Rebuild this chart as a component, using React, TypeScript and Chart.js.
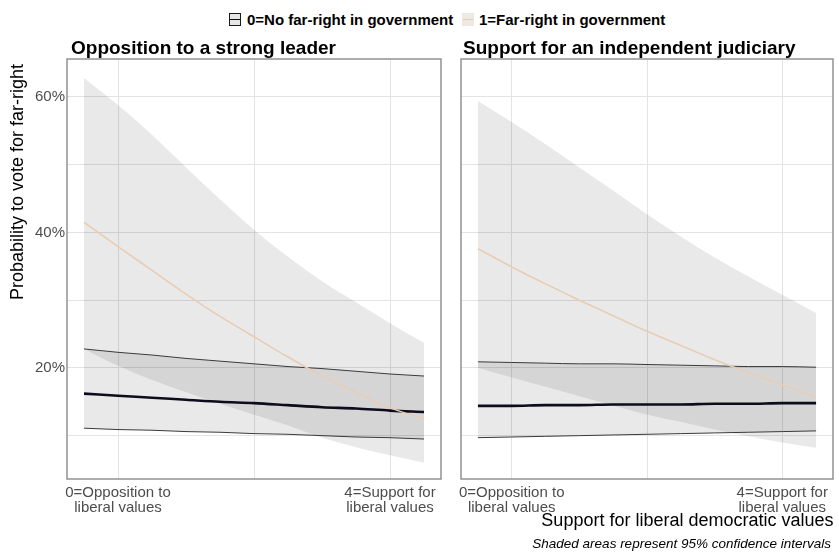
import React, { useEffect, useRef } from "react";
import { Chart, registerables } from "chart.js";

Chart.register(...registerables);

const FONT = '"Liberation Sans", Arial, Helvetica, sans-serif';

// Support for liberal democratic values (x positions of every series)
const supportLevels = [-0.5, 0, 0.5, 1, 1.5, 2, 2.5, 3, 3.5, 4, 4.5];

// Opposition to a strong leader: predicted probability (%) and 95% CI
const leaderNoFarRight = [16.2, 15.9, 15.6, 15.3, 15.0, 14.8, 14.5, 14.2, 14.0, 13.7, 13.5];
const leaderNoFarRightLow = [11.1, 10.9, 10.8, 10.6, 10.5, 10.3, 10.2, 10.0, 9.8, 9.7, 9.5];
const leaderNoFarRightHigh = [22.8, 22.3, 21.9, 21.4, 21.0, 20.6, 20.2, 19.9, 19.5, 19.1, 18.8];
const leaderFarRight = [41.5, 37.9, 34.4, 30.9, 27.6, 24.6, 21.6, 18.8, 16.4, 14.1, 12.5];
const leaderFarRightLow = [22.8, 20.3, 18.2, 16.4, 14.7, 13.1, 11.5, 9.7, 8.3, 7.1, 6.0];
const leaderFarRightHigh = [62.8, 58.8, 54.4, 49.6, 44.9, 40.4, 36.4, 32.8, 29.7, 26.6, 23.7];

// Support for an independent judiciary: predicted probability (%) and 95% CI
const judiciaryNoFarRight = [14.4, 14.4, 14.5, 14.5, 14.6, 14.6, 14.6, 14.7, 14.7, 14.8, 14.8];
const judiciaryNoFarRightLow = [9.7, 9.8, 9.9, 10.0, 10.1, 10.2, 10.3, 10.4, 10.5, 10.6, 10.7];
const judiciaryNoFarRightHigh = [20.9, 20.8, 20.7, 20.6, 20.6, 20.5, 20.4, 20.3, 20.2, 20.2, 20.1];
const judiciaryFarRight = [37.6, 34.9, 32.4, 30.0, 27.7, 25.4, 23.3, 21.2, 19.3, 17.5, 15.7];
const judiciaryFarRightLow = [20.0, 18.6, 17.2, 15.8, 14.4, 13.1, 12.0, 10.9, 9.9, 9.0, 8.2];
const judiciaryFarRightHigh = [59.4, 56.3, 53.0, 49.6, 46.2, 42.7, 39.4, 36.3, 33.5, 30.8, 28.1];

// Axis breaks and labels
const xGridValues = [0, 2, 4];
const xTickValues = [0, 4];
const xTickLabels = [
  ["0=Opposition to", "liberal values"],
  ["4=Support for", "liberal values"],
];
const yGridValues = [10, 20, 30, 40, 50, 60];
const yTickValues = [20, 40, 60];

const panelTitles = ["Opposition to a strong leader", "Support for an independent judiciary"];
const legendLabels = ["0=No far-right in government", "1=Far-right in government"];
const yAxisTitle = "Probability to vote for far-right";
const xAxisTitle = "Support for liberal democratic values";
const captionText = "Shaded areas represent 95% confidence intervals";

const RIBBON = "rgba(0,0,0,0.085)";
const EDGE = "#3a3a3a";
const NO_FR_COLOR = "#0c0c1c";
const FR_COLOR = "#e7cdb5";
const GRID = "#e3e3e3";
const TICK_TEXT = "#4d4d4d";

const panelBorder = {
  id: "panelBorder",
  afterDraw(chart: any) {
    const { ctx, chartArea } = chart;
    const { left, top, right, bottom } = chartArea;
    ctx.save();
    ctx.strokeStyle = "#8a8a8a";
    ctx.lineWidth = 1.4;
    ctx.strokeRect(left, top, right - left, bottom - top);
    ctx.restore();
  },
};

type Series = {
  noFr: number[];
  noFrLow: number[];
  noFrHigh: number[];
  fr: number[];
  frLow: number[];
  frHigh: number[];
};

type PanelProps = {
  series: Series;
  showYLabels: boolean;
  left: number;
  width: number;
  padLeft: number;
  padRight: number;
  yAxisWidth: number;
};

const CANVAS_TOP = 39;
const CANVAS_HEIGHT = 481;

function Panel({ series, showYLabels, left, width, padLeft, padRight, yAxisWidth }: PanelProps) {
  const ref = useRef<HTMLCanvasElement>(null);

  useEffect(() => {
    if (!ref.current) return;
    const pts = (vals: number[]) => supportLevels.map((x, i) => ({ x, y: vals[i] }));
    const base = {
      pointRadius: 0,
      pointHoverRadius: 0,
      cubicInterpolationMode: "monotone" as const,
    };
    const chart = new Chart(ref.current, {
      type: "line",
      data: {
        datasets: [
          {
            ...base,
            label: "fr-low",
            data: pts(series.frLow),
            borderColor: "rgba(0,0,0,0)",
            borderWidth: 1,
            fill: false,
            order: 9,
          },
          {
            ...base,
            label: "fr-high",
            data: pts(series.frHigh),
            borderColor: "rgba(0,0,0,0)",
            borderWidth: 1,
            backgroundColor: RIBBON,
            fill: 0,
            order: 8,
          },
          {
            ...base,
            label: "nofr-low",
            data: pts(series.noFrLow),
            borderColor: EDGE,
            borderWidth: 1,
            fill: false,
            order: 6,
          },
          {
            ...base,
            label: "nofr-high",
            data: pts(series.noFrHigh),
            borderColor: EDGE,
            borderWidth: 1,
            backgroundColor: RIBBON,
            fill: 2,
            order: 7,
          },
          {
            ...base,
            label: "nofr",
            data: pts(series.noFr),
            borderColor: NO_FR_COLOR,
            borderWidth: 2.6,
            fill: false,
            order: 2,
          },
          {
            ...base,
            label: "fr",
            data: pts(series.fr),
            borderColor: FR_COLOR,
            borderWidth: 1.6,
            fill: false,
            order: 1,
          },
        ],
      },
      options: {
        responsive: false,
        animation: false,
        events: [],
        layout: { padding: { top: 20, bottom: 0, left: padLeft, right: padRight } },
        plugins: {
          legend: { display: false },
          tooltip: { enabled: false },
          title: { display: false },
        },
        scales: {
          x: {
            type: "linear",
            min: -0.75,
            max: 4.75,
            afterBuildTicks: (s: any) => {
              s.ticks = xGridValues.map((v) => ({ value: v }));
            },
            afterFit: (s: any) => {
              s.height = 41;
            },
            grid: { color: GRID, lineWidth: 1, drawTicks: false },
            border: { display: false },
            ticks: {
              padding: 6,
              color: TICK_TEXT,
              autoSkip: false,
              maxRotation: 0,
              minRotation: 0,
              font: { family: FONT, size: 15, lineHeight: 1.03 },
              callback: (v: any) => {
                const i = xTickValues.indexOf(Number(v));
                return i >= 0 ? xTickLabels[i] : "";
              },
            },
          },
          y: {
            type: "linear",
            min: 3.6,
            max: 65.6,
            afterBuildTicks: (s: any) => {
              s.ticks = yGridValues.map((v) => ({ value: v }));
            },
            afterFit: (s: any) => {
              s.width = yAxisWidth;
            },
            grid: { color: GRID, lineWidth: 1, drawTicks: false },
            border: { display: false },
            ticks: {
              display: showYLabels,
              padding: 2,
              color: TICK_TEXT,
              font: { family: FONT, size: 15 },
              callback: (v: any) => (yTickValues.includes(Number(v)) ? `${v}%` : ""),
            },
          },
        },
      },
      plugins: [panelBorder],
    } as any);
    return () => chart.destroy();
  }, [series, showYLabels, padLeft, padRight, yAxisWidth]);

  return (
    <canvas
      ref={ref}
      width={width}
      height={CANVAS_HEIGHT}
      style={{ position: "absolute", left, top: CANVAS_TOP, width, height: CANVAS_HEIGHT }}
    />
  );
}

const leaderSeries: Series = {
  noFr: leaderNoFarRight,
  noFrLow: leaderNoFarRightLow,
  noFrHigh: leaderNoFarRightHigh,
  fr: leaderFarRight,
  frLow: leaderFarRightLow,
  frHigh: leaderFarRightHigh,
};

const judiciarySeries: Series = {
  noFr: judiciaryNoFarRight,
  noFrLow: judiciaryNoFarRightLow,
  noFrHigh: judiciaryNoFarRightHigh,
  fr: judiciaryFarRight,
  frLow: judiciaryFarRightLow,
  frHigh: judiciaryFarRightHigh,
};

const text = (extra: React.CSSProperties): React.CSSProperties => ({
  position: "absolute",
  whiteSpace: "nowrap",
  lineHeight: 1,
  fontFamily: FONT,
  color: "#000",
  ...extra,
});

export default function App() {
  return (
    <div
      style={{
        position: "absolute",
        left: 0,
        top: 0,
        width: 839,
        height: 555,
        background: "#fff",
        overflow: "hidden",
      }}
    >
      <Panel series={leaderSeries} showYLabels left={0} width={450} padLeft={0} padRight={9} yAxisWidth={67} />
      <Panel series={judiciarySeries} showYLabels={false} left={445} width={394} padLeft={10} padRight={6} yAxisWidth={6} />

      {/* legend */}
      <div
        style={{
          position: "absolute",
          left: 229,
          top: 13,
          width: 10,
          height: 11,
          background: "#e6e6e6",
          border: "1px solid #1a1a1a",
        }}
      >
        <div style={{ position: "absolute", left: 0, right: 0, top: 4.7, height: 1.6, background: NO_FR_COLOR }} />
      </div>
      <div style={text({ left: 247, top: 11.8, fontSize: 15, fontWeight: "bold" })}>{legendLabels[0]}</div>
      <div
        style={{
          position: "absolute",
          left: 462,
          top: 13,
          width: 10,
          height: 11,
          background: "#ece9e6",
          border: "1px solid #f1e7dd",
        }}
      >
        <div style={{ position: "absolute", left: 0, right: 0, top: 4.7, height: 1.6, background: FR_COLOR }} />
      </div>
      <div style={text({ left: 479, top: 11.8, fontSize: 15, fontWeight: "bold" })}>{legendLabels[1]}</div>

      {/* panel titles */}
      <div style={text({ left: 71, top: 38.4, fontSize: 19, fontWeight: "bold" })}>{panelTitles[0]}</div>
      <div style={text({ left: 463, top: 38.4, fontSize: 19, fontWeight: "bold" })}>{panelTitles[1]}</div>

      {/* y axis title */}
      <div
        style={text({
          left: 16.7 - 150,
          top: 181.5 - 9,
          width: 300,
          height: 18,
          fontSize: 18,
          textAlign: "center",
          transform: "rotate(-90deg)",
        })}
      >
        {yAxisTitle}
      </div>

      {/* x axis title and caption */}
      <div style={text({ left: 400, width: 433.5, top: 510.5, fontSize: 18, textAlign: "right" })}>{xAxisTitle}</div>
      <div
        style={text({
          left: 400,
          width: 431,
          top: 537.2,
          fontSize: 13.5,
          fontStyle: "italic",
          textAlign: "right",
        })}
      >
        {captionText}
      </div>
    </div>
  );
}
